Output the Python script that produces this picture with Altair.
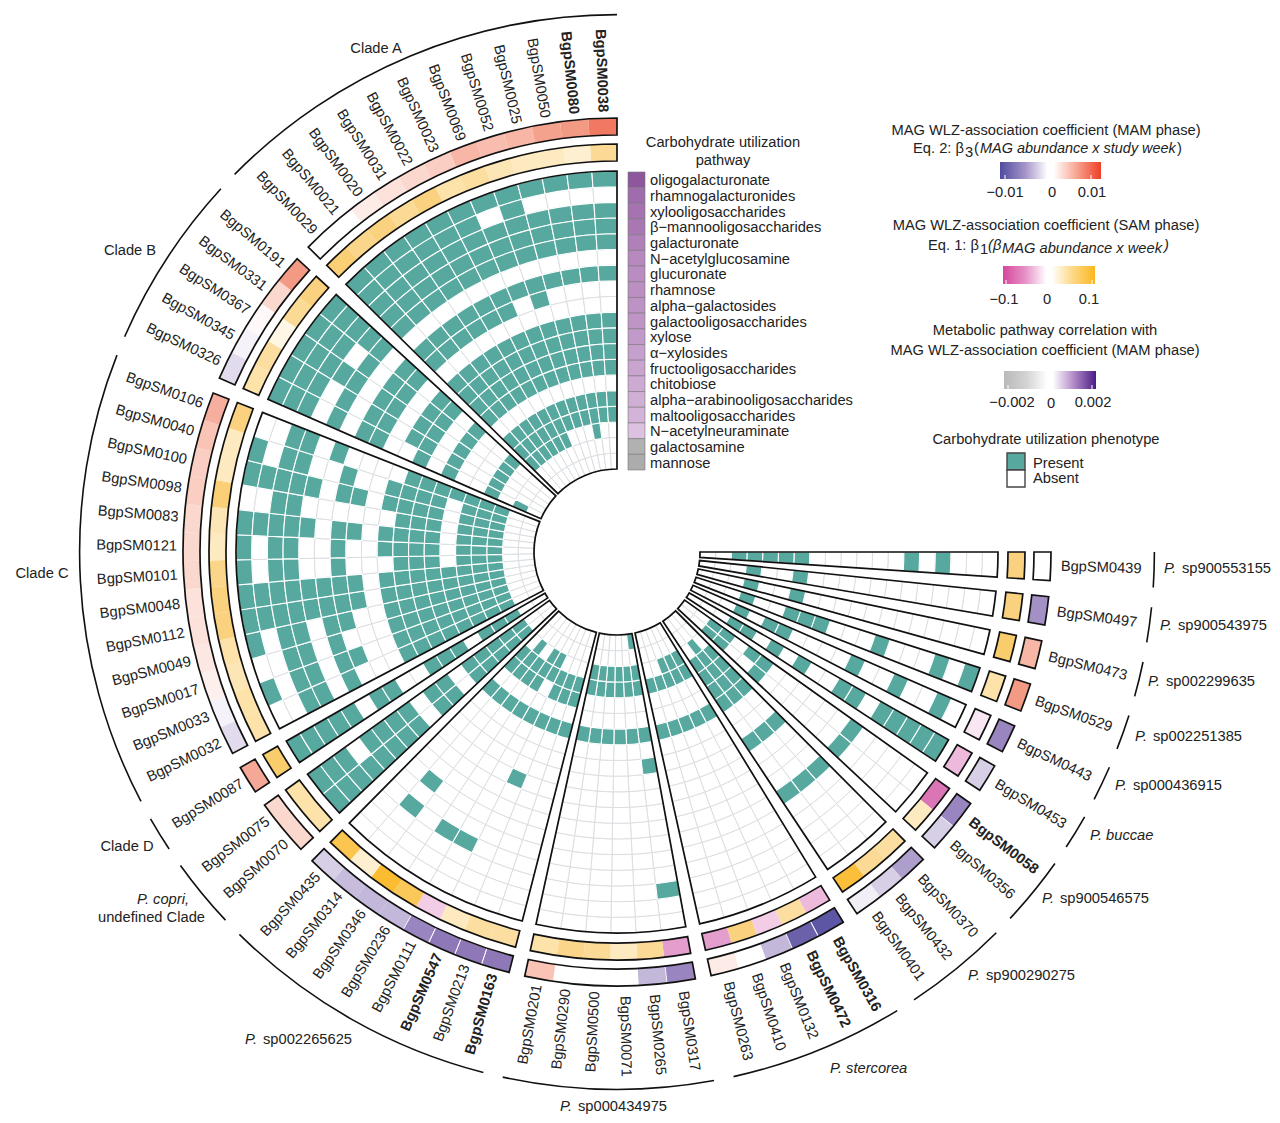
import math
import altair as alt
import pandas as pd

# ---------- data ----------
PATHWAYS = ["oligogalacturonate", "rhamnogalacturonides", "xylooligosaccharides",
            "β−mannooligosaccharides", "galacturonate", "N−acetylglucosamine", "glucuronate",
            "rhamnose", "alpha−galactosides", "galactooligosaccharides", "xylose", "α−xylosides",
            "fructooligosaccharides", "chitobiose", "alpha−arabinooligosaccharides",
            "maltooligosaccharides", "N−acetylneuraminate", "galactosamine", "mannose"]
PATHWAY_CORR = [.0015, .0013, .00125, .0012, .00112, .00105, .00102, .001, .00097, .00095, .0009,
                .00085, .00082, .00076, .00072, .00068, .00055, -.0018, -.0019]

SECTORS = [["0439"], ["0497"], ["0473"], ["0529"], ["0443"], ["0453"], ["0058", "0356"],
           ["0370", "0432", "0401"], ["0316", "0472", "0132", "0410", "0263"],
           ["0317", "0265", "0071", "0500", "0290", "0201"],
           ["0163", "0213", "0547", "0111", "0236", "0346", "0314", "0435"],
           ["0070", "0075"], ["0087"],
           ["0032", "0033", "0017", "0049", "0112", "0048", "0101", "0121", "0083", "0098", "0100", "0040", "0106"],
           ["0326", "0345", "0367", "0331", "0191"],
           ["0029", "0021", "0020", "0031", "0022", "0023", "0069", "0052", "0025", "0050", "0080", "0038"]]
BOLD = ["0080", "0038", "0058", "0472", "0316", "0547", "0163"]

MAM = [0, -.0045, .004, .006, -.005, -.002, -.005, -.002, -.004, -.002, -.0007,
       -.009, -.008, -.003, 0, .001, -.005, -.003, 0, 0, 0, .003,
       -.0055, -.0055, -.0055, -.005, -.003, -.003, -.0028, -.002, .002, .002, .005,
       -.0015, -.0005, .0008, .0012, .0015, .0015, .002, .002, .002, .0025, .0025, .003, .0045,
       -.0015, -.0005, .0003, .002, .006,
       0, 0, .001, .0015, .002, .0025, .004, .0035, .004, .0055, .006, .0075]
SAM = [.05, .05, .06, .03, -.01, -.03, -.07, .02, .035, .04, .085,
       -.03, .035, -.02, .05, -.045, -.045, .04, .02, .04, .045, .03,
       .035, .035, .02, -.02, .07, .09, .015, .075, .03, .03, .06,
       .03, .03, .025, .03, .05, .05, .045, .02, .025, .055, .02, .02, .05,
       .03, .035, .008, .04, .05,
       .055, .045, .05, .04, .05, .03, .035, .025, .02, .02, .015, .04]

# present pathways (row index) per MAG, clockwise
PRESENT_SMALL = {
    "0439": [3, 5, 12, 13, 14, 15, 16], "0497": [12, 15], "0473": [12, 15],
    "0529": [0, 2, 6, 10, 11, 12, 15], "0443": [1, 4, 7, 12, 13, 15],
    "0453": [0, 1, 2, 3, 4, 6, 7, 10, 12, 14, 15],
    "0058": [5, 12, 13, 15, 16], "0356": [5, 12, 15, 16],
    "0370": [5, 9, 12, 13, 14, 15], "0432": [5, 9, 12, 13, 14, 15, 16], "0401": [5, 9, 12, 13, 14, 15],
    "0316": [12, 15, 16], "0472": [12, 15, 16], "0132": [12, 15, 16], "0410": [12, 15], "0263": [12, 15],
    "0317": [2, 10, 12, 15, 16, 18], "0265": [12, 15, 16], "0071": [12, 15, 16], "0500": [12, 15, 16],
    "0290": [12, 15, 16], "0201": [12, 15, 16],
    "0163": [12, 14, 15], "0213": [12, 14, 15], "0547": [8, 12, 14, 15], "0111": [3, 12, 15, 16],
    "0236": [3, 12, 14, 15, 16], "0346": [12, 14, 15], "0314": [3, 5, 12, 14, 15, 16], "0435": [12, 14, 15],
    "0070": [0, 1, 2, 3, 4, 5, 6, 7, 9, 10, 12, 13, 14, 15, 16],
    "0075": [0, 1, 2, 4, 5, 6, 7, 9, 10, 12, 13, 14, 15, 16],
    "0087": [0, 1, 2, 3, 4, 6, 7, 10, 11, 12, 14, 15, 16],
}
ROWS_C = ["0101111110110", "0000110010100", "1111111111111", "1111111111111", "0000110010100",
          "1111110000001", "0101111110110", "0000110010100", "0000000000000", "1111110110110",
          "1111111111111", "1111111111111", "1111111111111", "1111110000001", "1111111111111",
          "1111111111111", "1111111111111", "0000000000000", "0000000000000"]
ROWS_B = ["11111", "11111", "11111", "00101", "11111", "00000", "11111", "11111", "00000", "01111",
          "11111", "00000", "11111", "00000", "00000", "11111", "00000", "10000", "00000"]
ROWS_A = ["111111111111", "111111010000", "111111111111", "111111111111", "111111111111",
          "000000000000", "111111111111", "111111010000", "000000000000", "111111111111",
          "111111111111", "111111111111", "111111111111", "000000000000", "111111111111",
          "111111111111", "111111000100", "000000000000", "000000000000"]

GROUP_ARC_TEXT = [[("P.", "i"), ("sp900553155", "n")], [("P.", "i"), ("sp900543975", "n")],
                  [("P.", "i"), ("sp002299635", "n")], [("P.", "i"), ("sp002251385", "n")],
                  [("P.", "i"), ("sp000436915", "n")], [("P. buccae", "i")],
                  [("P.", "i"), ("sp900546575", "n")], [("P.", "i"), ("sp900290275", "n")],
                  [("P. stercorea", "i")], [("P.", "i"), ("sp000434975", "n")],
                  [("P.", "i"), ("sp002265625", "n")]]
CLADES = ["Clade A", "Clade B", "Clade C", "Clade D"]

# ---------- layout ----------
FONT = "Liberation Sans"
FS = 14.7
INK = "#222222"
CX, CY = 617 - 8, 552 - 8
W_COL = 3.78
GAP = (270 - 63 * W_COL) / 15
R_IN, R_OUT = 83.0, 381.0
ROW_H = (R_OUT - R_IN) / 19
TEAL = "#57a99f"

theta_scale = alt.Scale(domain=[0, 360], range=[0, 2 * math.pi])
rad_scale = alt.Scale(domain=[0, 600], range=[0, 600])
px_y = alt.Scale(domain=[0, 1107], range=[0, 1107])
mam_scale = alt.Scale(domain=[-.01, -.0055, -.003, 0, .003, .006, .01], interpolate="rgb",
                      range=["#4f4c9e", "#8e78b8", "#c3b7da", "#ffffff", "#f9c4b6", "#f39a85", "#ee3f25"])
sam_scale = alt.Scale(domain=[-.1, -.05, -.02, 0, .02, .05, .1], interpolate="rgb",
                      range=["#d6479c", "#e094c8", "#f3cde6", "#ffffff", "#feeac0", "#fad27f", "#fbb71f"])
corr_scale = alt.Scale(domain=[-.002, 0, .0005, .001, .0015, .002], interpolate="rgb",
                       range=["#a8a8a8", "#ffffff", "#e0c8e3", "#bb8fc2", "#8e569d", "#4b1a87"])

# ---------- tables ----------
ROWS_GROUP = {13: ROWS_C, 14: ROWS_B, 15: ROWS_A}
cells, rings, sect, labels = [], [], [], []
t = 90.0
k = 0
for si, mags in enumerate(SECTORS):
    t_start = t
    for mi, m in enumerate(mags):
        t0, t1 = t, t + W_COL
        if si in ROWS_GROUP:
            pres = [i for i, row in enumerate(ROWS_GROUP[si]) if row[mi] == "1"]
        else:
            pres = PRESENT_SMALL[m]
        for i in range(19):
            cells.append(dict(t0=t0, t1=t1, r0=R_OUT - (i + 1) * ROW_H, r1=R_OUT - i * ROW_H,
                              present=int(i in pres)))
        rings.append(dict(t0=t0, t1=t1, mam=MAM[k], sam=SAM[k], r0s=391, r1s=408, r0m=417, r1m=434))
        mid = (t0 + t1) / 2
        right = mid < 180
        labels.append(dict(t=mid, r=444 if right else 440,
                           rot=(mid - 90) if right else (mid - 270) % 360,
                           label="BgpSM" + m, side="l" if right else "r",
                           weight="b" if m in BOLD else "n"))
        t = t1
        k += 1
    sect.append(dict(t0=t_start, t1=t))
    t += GAP

cells = pd.DataFrame(cells)
rings = pd.DataFrame(rings)
sect = pd.DataFrame(sect)
labels = pd.DataFrame(labels)
sect["h0"], sect["h1"] = R_IN, R_OUT
sect["s0"], sect["s1"] = 391, 408
sect["m0"], sect["m1"] = 417, 434
sect["a0"], sect["a1"] = 536.6, 538.2

def arc_enc(r0, r1, t0="t0", t1="t1"):
    return dict(x=alt.value(CX), y=alt.value(CY),
                theta=alt.Theta(f"{t0}:Q", scale=theta_scale, stack=None),
                theta2=alt.Theta2(f"{t1}:Q"),
                radius=alt.Radius(f"{r0}:Q", scale=rad_scale),
                radius2=alt.Radius2(f"{r1}:Q"))

layers = []
# heat cells
layers.append(alt.Chart(cells[cells.present == 0]).mark_arc(fill="white", stroke="#dcdfe2", strokeWidth=1)
              .encode(**arc_enc("r0", "r1")))
layers.append(alt.Chart(cells[cells.present == 1]).mark_arc(fill=TEAL, stroke="white", strokeWidth=1.1)
              .encode(**arc_enc("r0", "r1")))
# rings
layers.append(alt.Chart(rings).mark_arc().encode(
    color=alt.Color("sam:Q", scale=sam_scale, legend=None), **arc_enc("r0s", "r1s")))
layers.append(alt.Chart(rings).mark_arc().encode(
    color=alt.Color("mam:Q", scale=mam_scale, legend=None), **arc_enc("r0m", "r1m")))
# thin white separators only where the outer ring is dark
layers.append(alt.Chart(rings[rings.mam <= -.005]).mark_arc(fillOpacity=0, stroke="white", strokeWidth=.8)
              .encode(**arc_enc("r0m", "r1m")))
# outlines
for a, b in [("h0", "h1"), ("s0", "s1"), ("m0", "m1")]:
    layers.append(alt.Chart(sect).mark_arc(fillOpacity=0, stroke="#111111", strokeWidth=1.7)
                  .encode(**arc_enc(a, b)))
# group arcs
layers.append(alt.Chart(sect).mark_arc(fill="#111111").encode(**arc_enc("a0", "a1")))

# MAG labels
for side, align in [("l", "left"), ("r", "right")]:
    for w, fw in [("n", "normal"), ("b", "bold")]:
        d = labels[(labels.side == side) & (labels.weight == w)]
        if len(d):
            layers.append(alt.Chart(d).mark_text(font=FONT, fontSize=FS, align=align, baseline="middle",
                                                 fontWeight=fw, color=INK).encode(
                x=alt.value(CX), y=alt.value(CY),
                theta=alt.Theta("t:Q", scale=theta_scale, stack=None),
                radius=alt.Radius("r:Q", scale=rad_scale),
                angle=alt.Angle("rot:Q", scale=None),
                text="label:N"))

def txt(s, x, y, align="left", size=FS, style="normal", color=INK):
    return alt.Chart(pd.DataFrame({"label": [s]})).mark_text(
        font=FONT, fontSize=size, align=align, baseline="middle", fontStyle=style, color=color
    ).encode(x=alt.value(x - 8), y=alt.value(y - 7), text="label:N")

# species labels
SPECIES_POS = [(1164, 568), (1160, 625), (1148, 681), (1135, 736), (1115, 785), (1090, 835),
               (1042, 898), (968, 975), (830, 1068), (560, 1106), (245, 1039)]
for parts, (x, y) in zip(GROUP_ARC_TEXT, SPECIES_POS):
    if len(parts) == 1:
        layers.append(txt(parts[0][0], x, y, style="italic"))
    else:
        layers.append(txt(parts[0][0], x, y, style="italic"))
        layers.append(txt(parts[1][0], x + 18, y))
layers.append(txt("P. copri,", 137, 899, style="italic"))
layers.append(txt("undefined Clade", 98, 917))
for s, (x, y) in zip(CLADES, [(376, 48), (130, 250), (42, 573), (127, 846)]):
    layers.append(txt(s, x, y, align="center"))

# pathway legend
leg = pd.DataFrame({"label": PATHWAYS, "corr": PATHWAY_CORR, "i": range(19)})
leg["y0"] = 172 - 8 + leg.i * ROW_H
leg["y1"] = leg.y0 + ROW_H
leg["ym"] = leg.y0 + ROW_H / 2 + 1.5
layers.append(alt.Chart(leg).mark_rect(stroke="#777777", strokeWidth=.6).encode(
    x=alt.value(628 - 8), x2=alt.value(645 - 8),
    y=alt.Y("y0:Q", scale=px_y, axis=None), y2="y1:Q",
    color=alt.Color("corr:Q", scale=corr_scale, legend=None)))
layers.append(alt.Chart(leg).mark_text(font=FONT, fontSize=FS, align="left", baseline="middle", color=INK).encode(
    x=alt.value(650 - 8), y=alt.Y("ym:Q", scale=px_y, axis=None), text="label:N"))
layers.append(txt("Carbohydrate utilization", 723, 142, align="center"))
layers.append(txt("pathway", 723, 160, align="center"))

def grad_bar(x0, x1, y0, y1, cneg, cpos, ticks, mids=None):
    stops = [alt.GradientStop(color=cneg, offset=0)]
    if mids:
        stops.append(alt.GradientStop(color=mids[0], offset=.25))
    stops += [alt.GradientStop(color="#ffffff", offset=.47), alt.GradientStop(color="#ffffff", offset=.53)]
    if mids:
        stops.append(alt.GradientStop(color=mids[1], offset=.75))
    stops.append(alt.GradientStop(color=cpos, offset=1))
    one = pd.DataFrame({"a": [1]})
    out = [alt.Chart(one).mark_rect(fill=alt.LinearGradient(gradient="linear", stops=stops, x1=0, x2=1, y1=0, y2=0)).encode(
        x=alt.value(x0 - 8), x2=alt.value(x1 - 8), y=alt.value(y0 - 8), y2=alt.value(y1 - 8))]
    for tx in ticks:
        out.append(alt.Chart(one).mark_rule(color="white", strokeWidth=1).encode(
            x=alt.value(tx - 8), y=alt.value(y1 - 12), y2=alt.value(y1 - 8)))
    return out

layers += [txt("MAG WLZ-association coefficient (MAM phase)", 1046, 130, align="center"),
           txt("Eq. 2: β", 913, 148), txt("3", 965, 152), txt("(", 974, 148),
           txt("MAG abundance x study week", 980, 148, style="italic", size=14.45), txt(")", 1177, 148)]
layers += grad_bar(1000, 1101, 162, 179, "#4f4c9e", "#ee3f25", [1005, 1091], ("#a594c8", "#f8a895"))
layers += [txt("−0.01", 1005, 192, align="center"), txt("0", 1052, 192, align="center"), txt("0.01", 1092, 192, align="center")]

layers += [txt("MAG WLZ-association coefficient (SAM phase)", 1046, 225, align="center"),
           txt("Eq. 1: β", 928, 245), txt("1", 980, 249), txt("(β", 988, 245, style="italic"),
           txt("MAG abundance x week", 1002, 248, style="italic"), txt(")", 1164, 245, style="italic")]
layers += grad_bar(1003, 1095, 266, 284, "#d6479c", "#fbb71f", [1006, 1092], ("#e794c8", "#fdd98a"))
layers += [txt("−0.1", 1004, 299, align="center"), txt("0", 1047, 299, align="center"), txt("0.1", 1089, 299, align="center")]

layers += [txt("Metabolic pathway correlation with", 1045, 330, align="center"),
           txt("MAG WLZ-association coefficient (MAM phase)", 1045, 350, align="center")]
layers += grad_bar(1004, 1096, 371, 389, "#b9b9b9", "#4b1a87", [1008, 1092], ("#d4d4d4", "#b48fc8"))
layers += [txt("−0.002", 1012, 402, align="center"), txt("0", 1051, 403, align="center"), txt("0.002", 1093, 402, align="center")]

layers.append(txt("Carbohydrate utilization phenotype", 1046, 439, align="center"))
one = pd.DataFrame({"a": [1]})
layers.append(alt.Chart(one).mark_rect(fill=TEAL, stroke="#444444", strokeWidth=1.4).encode(
    x=alt.value(1007 - 8), x2=alt.value(1025 - 8), y=alt.value(453 - 8), y2=alt.value(470 - 8)))
layers.append(alt.Chart(one).mark_rect(fill="white", stroke="#444444", strokeWidth=1.4).encode(
    x=alt.value(1007 - 8), x2=alt.value(1025 - 8), y=alt.value(470 - 8), y2=alt.value(487 - 8)))
layers += [txt("Present", 1033, 463), txt("Absent", 1033, 478)]

chart = (alt.layer(*layers)
         .resolve_scale(color="independent")
         .properties(width=1264, height=1107, padding=0,
                     autosize=alt.AutoSizeParams(type="none"))
         .configure_view(stroke=None))
chart.save("out.html", embed_options={"renderer": "svg", "actions": False})
